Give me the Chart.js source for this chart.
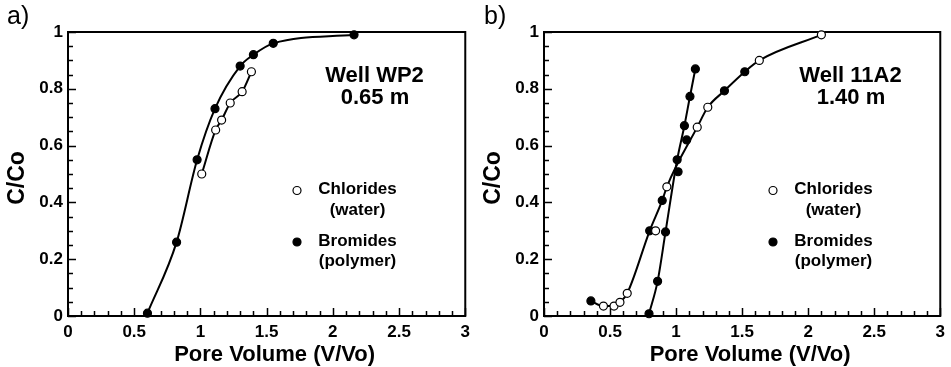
<!DOCTYPE html>
<html>
<head>
<meta charset="utf-8">
<script src="https://cdn.jsdelivr.net/npm/chart.js@4.4.1/dist/chart.umd.min.js"></script>
<style>
  html, body { margin: 0; padding: 0; background: #fff; }
  #wrap { position: relative; width: 951px; height: 367px; }
  .panel { position: absolute; top: 0; height: 367px; }
  #panelA { left: 0; width: 476px; }
  #panelB { left: 476px; width: 475px; }
</style>
</head>
<body>
<div id="wrap">
  <div class="panel" id="panelA"><canvas id="chartA"></canvas></div>
  <div class="panel" id="panelB"><canvas id="chartB"></canvas></div>
</div>
<script>
// tick labels
var xTicks = [0, 0.5, 1, 1.5, 2, 2.5, 3];
var yTicks = [0, 0.2, 0.4, 0.6, 0.8, 1];

// a) Well WP2 - chlorides (open) and bromides (filled)
var chlA_x = [1.01, 1.115, 1.16, 1.225, 1.315, 1.385];
var chlA_y = [0.50, 0.655, 0.69, 0.75, 0.79, 0.86];
var broA_x = [0.60, 0.82, 0.975, 1.11, 1.30, 1.40, 1.55, 2.16];
var broA_y = [0.01, 0.26, 0.55, 0.73, 0.88, 0.92, 0.96, 0.99];

// b) Well 11A2
var chlB_x = [0.45, 0.53, 0.575, 0.63, 0.845, 0.93, 1.16, 1.24, 1.63, 2.10];
var chlB_y = [0.035, 0.035, 0.048, 0.08, 0.30, 0.455, 0.665, 0.735, 0.90, 0.99];
var broB_x = [0.355, 0.80, 0.895, 0.795, 0.86, 0.92, 1.008, 1.015, 1.063, 1.08, 1.105, 1.146, 1.366, 1.52];
var broB_y = [0.053, 0.30, 0.407, 0.008, 0.122, 0.296, 0.55, 0.508, 0.67, 0.62, 0.773, 0.87, 0.793, 0.86];

// b) fitted lines
var steepB_x = [0.795, 0.86, 0.92, 1.008, 1.063, 1.105, 1.146];
var steepB_y = [0.008, 0.122, 0.296, 0.55, 0.67, 0.773, 0.87];
var slowB_x = [0.355, 0.45, 0.53, 0.575, 0.63, 0.80, 0.895, 0.93, 1.16, 1.24, 1.366, 1.52, 1.63, 2.10];
var slowB_y = [0.053, 0.035, 0.035, 0.048, 0.08, 0.30, 0.407, 0.455, 0.665, 0.735, 0.793, 0.86, 0.90, 0.99];

// texts
var panelLabels = ['a)', 'b)'];
var wellNames = ['Well WP2', 'Well 11A2'];
var depths = ['0.65 m', '1.40 m'];
var legendNames = [['Chlorides', '(water)'], ['Bromides', '(polymer)']];
var xTitle = 'Pore Volume (V/Vo)';
var yTitle = 'C/Co';

var FONT = "'Liberation Sans', Arial, sans-serif";
Chart.defaults.font.family = FONT;
Chart.defaults.color = '#000';

function pts(xs, ys) {
    return xs.map(function(x, i) { return {x: x, y: ys[i]}; });
}

function pointSet(xs, ys, filled) {
    return {
        data: pts(xs, ys),
        showLine: false,
        pointRadius: 4,
        pointHoverRadius: 4,
        pointBorderWidth: 1.2,
        pointBorderColor: '#000',
        pointBackgroundColor: filled ? '#000' : '#fff',
        clip: false
    };
}

function lineSet(xs, ys) {
    return {
        data: pts(xs, ys),
        showLine: true,
        pointRadius: 0,
        borderColor: '#000',
        borderWidth: 2,
        cubicInterpolationMode: 'monotone',
        clip: false
    };
}

// frame, inward ticks, legend and labels
var decoPlugin = {
    id: 'deco',
    beforeDatasetsDraw: function(chart) {
        var ctx = chart.ctx, a = chart.chartArea;
        var xs = chart.scales.x, ys = chart.scales.y;
        ctx.save();
        ctx.strokeStyle = '#000';
        ctx.lineWidth = 1.5;
        ctx.beginPath();
        for (var i = 0; i <= 30; i++) {
            var px = Math.round(xs.getPixelForValue(i / 10)) + 0.5;
            var len = (i % 5 === 0) ? 8 : 5;
            ctx.moveTo(px, a.bottom);
            ctx.lineTo(px, a.bottom - len);
        }
        for (var j = 0; j <= 20; j++) {
            var py = Math.round(ys.getPixelForValue(j / 20)) + 0.5;
            var l2 = (j % 4 === 0) ? 8 : 5;
            ctx.moveTo(a.left, py);
            ctx.lineTo(a.left + l2, py);
        }
        ctx.stroke();
        ctx.lineWidth = 2;
        ctx.strokeRect(a.left, a.top, a.right - a.left, a.bottom - a.top);
        ctx.restore();
    },
    afterDraw: function(chart, args, opts) {
        var ctx = chart.ctx, a = chart.chartArea, k = opts.panel;
        ctx.save();
        ctx.fillStyle = '#000';
        ctx.textBaseline = 'middle';

        // panel letter
        ctx.textAlign = 'left';
        ctx.font = '25px ' + FONT;
        ctx.fillText(panelLabels[k], opts.labelX, 17);

        // axis titles
        ctx.textAlign = 'center';
        ctx.font = 'bold 22px ' + FONT;
        ctx.fillText(xTitle, (a.left + a.right) / 2 + 8, 355);
        ctx.save();
        ctx.translate(18, (a.top + a.bottom) / 2 + 4);
        ctx.rotate(-Math.PI / 2);
        ctx.font = 'bold 23px ' + FONT;
        ctx.fillText(yTitle, 0, 0);
        ctx.restore();

        // well name and depth
        ctx.font = 'bold 22px ' + FONT;
        ctx.fillText(wellNames[k], a.left + 306.5, a.top + 44);
        ctx.fillText(depths[k], a.left + 307, a.top + 66);

        // legend
        var rows = [158.5, 210];
        ctx.font = 'bold 17px ' + FONT;
        for (var r = 0; r < 2; r++) {
            ctx.beginPath();
            ctx.arc(a.left + 229, a.top + rows[r], 4, 0, Math.PI * 2);
            ctx.fillStyle = r === 0 ? '#fff' : '#000';
            ctx.fill();
            ctx.lineWidth = 1.2;
            ctx.strokeStyle = '#000';
            ctx.stroke();
            ctx.fillStyle = '#000';
            ctx.fillText(legendNames[r][0], a.left + 289.5, a.top + rows[r] - 1);
            ctx.fillText(legendNames[r][1], a.left + 289.5, a.top + rows[r] + 19.5);
        }
        ctx.restore();
    }
};

function tickText(v) { return String(v); }

function makeChart(id, k, datasets, padRight, labelX) {
    return new Chart(document.getElementById(id), {
        type: 'scatter',
        data: { datasets: datasets },
        options: {
            responsive: true,
            maintainAspectRatio: false,
            animation: false,
            events: [],
            layout: { padding: { top: 32, right: padRight, left: 0, bottom: 0 } },
            plugins: {
                legend: { display: false },
                tooltip: { enabled: false },
                deco: { panel: k, labelX: labelX }
            },
            scales: {
                x: {
                    type: 'linear',
                    min: 0, max: 3,
                    grid: { display: false, drawTicks: false, tickLength: 0 },
                    border: { display: false },
                    afterBuildTicks: function(s) { s.ticks = xTicks.map(function(v) { return {value: v}; }); },
                    afterFit: function(s) { s.height = 51; },
                    ticks: { padding: 6, maxRotation: 0, font: { size: 17, weight: 'bold' }, color: '#000', callback: tickText },
                    title: { display: false }
                },
                y: {
                    type: 'linear',
                    min: 0, max: 1,
                    grid: { display: false, drawTicks: false, tickLength: 0 },
                    border: { display: false },
                    afterBuildTicks: function(s) { s.ticks = yTicks.map(function(v) { return {value: v}; }); },
                    afterFit: function(s) { s.width = 68; },
                    ticks: { padding: 5, font: { size: 17, weight: 'bold' }, color: '#000', callback: tickText },
                    title: { display: false }
                }
            }
        },
        plugins: [decoPlugin]
    });
}

makeChart('chartA', 0, [
    pointSet(chlA_x, chlA_y, false),
    pointSet(broA_x, broA_y, true),
    lineSet(chlA_x, chlA_y),
    lineSet(broA_x, broA_y)
], 9, 7);

makeChart('chartB', 1, [
    pointSet(chlB_x, chlB_y, false),
    pointSet(broB_x, broB_y, true),
    lineSet(steepB_x, steepB_y),
    lineSet(slowB_x, slowB_y)
], 8, 8);
</script>
</body>
</html>
